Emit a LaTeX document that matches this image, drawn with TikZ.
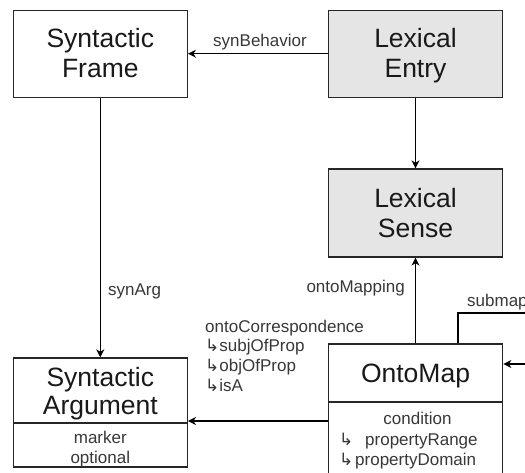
\documentclass[tikz,border=0pt]{standalone}
\usepackage{fontspec}
\setmainfont{Liberation Sans}
\newfontfamily\djv{DejaVu Sans}
\usetikzlibrary{arrows.meta,calc}
\begin{document}
\begin{tikzpicture}[x=1pt,y=-1pt,
  box/.style={draw=black!85,line width=1.3pt,inner sep=0pt,minimum width=174pt},
  ttl/.style={font=\fontsize{26.5}{30}\selectfont,text=black!90,inner sep=0pt,anchor=base},
  lbl/.style={font=\fontsize{17}{20}\selectfont,text=black!78,inner sep=0pt},
  conn/.style={line width=1.2pt,draw=black,-{Stealth[length=8pt,width=8pt,inset=2.5pt]}},
  divider/.style={line width=1.3pt,draw=black!85}]
\clip (0,0) rectangle (525,473);
\fill[white] (0,0) rectangle (525,473);
% boxes
\node[box,minimum height=87pt] (sf) at (100.3,53.7) {};
\node[box,minimum width=174.5pt,minimum height=87pt,fill=black!10] (le) at (415.5,53.7) {};
\node[box,minimum width=174.5pt,minimum height=88pt,fill=black!10] (ls) at (415.5,213) {};
\node[box,minimum height=109pt] (sa) at (100.3,412.5) {};
\node[box,minimum width=174.5pt,minimum height=152pt] (om) at (415.5,420) {};
% dividers
\coordinate (saDiv) at (0,423);
\coordinate (omDiv) at (0,402);
\draw[divider] (sa.west |- saDiv) -- (sa.east |- saDiv);
\draw[divider] (om.west |- omDiv) -- (om.east |- omDiv);
% titles
\node[ttl] (sf1) at (100.3,48) {Syntactic};
\node[ttl] (sf2) at (100.3,78) {Frame};
\node[ttl] (le1) at (415.5,48) {Lexical};
\node[ttl] (le2) at (415.5,78) {Entry};
\node[ttl] (ls1) at (415.5,207.5) {Lexical};
\node[ttl] (ls2) at (415.5,237.5) {Sense};
\node[ttl] (sa1) at (100.3,386) {Syntactic};
\node[ttl] (sa2) at (100.3,414) {Argument};
\node[ttl] (om1) at (415.5,382) {OntoMap};
% attributes
\node[lbl,anchor=base] (sa3) at (100.3,443) {marker};
\node[lbl,anchor=base] (sa4) at (100.3,463) {optional};
\node[lbl,anchor=base] (om2) at (417.5,424) {condition};
\node[lbl,anchor=base west] (om3a) at (339,445) {\djv ↳};
\node[lbl,anchor=base west] (om3) at (365,445) {propertyRange};
\node[lbl,anchor=base west] (om4a) at (339,465) {\djv ↳};
\node[lbl,anchor=base west] (om4) at (355,465) {propertyDomain};
% connectors
\draw[conn] (le.west) -- (sf.east);
\node[lbl,anchor=base] (synb) at (260,47) {synBehavior};
\draw[conn] (le.south) -- (ls.north);
\draw[conn] (sf.south) -- (sa.north);
\node[lbl,anchor=base west] (syna) at (108,295) {synArg};
\draw[conn] (om.north) -- (ls.south);
\node[lbl,anchor=base east] (ontm) at (405,293) {ontoMapping};
\coordinate (ocY) at (0,421);
\draw[conn] (om.west |- ocY) -- (sa.east |- ocY);
\node[lbl,anchor=base west] (oc1) at (205,332) {ontoCorrespondence};
\node[lbl,anchor=base west] (oc2) at (205,351.5) {{\djv ↳}subjOfProp};
\node[lbl,anchor=base west] (oc3) at (205,371) {{\djv ↳}objOfProp};
\node[lbl,anchor=base west] (oc4) at (205,391) {{\djv ↳}isA};
\coordinate (smA) at (458,313);
\coordinate (smB) at (545,313);
\coordinate (smC) at (545,364);
\draw[conn] (om.north -| smA) -- (smA) -- (smB) -- (smC) -- (om.east |- smC);
\node[lbl,anchor=base west] (smap) at (467,306) {submap};
\end{tikzpicture}
\end{document}
